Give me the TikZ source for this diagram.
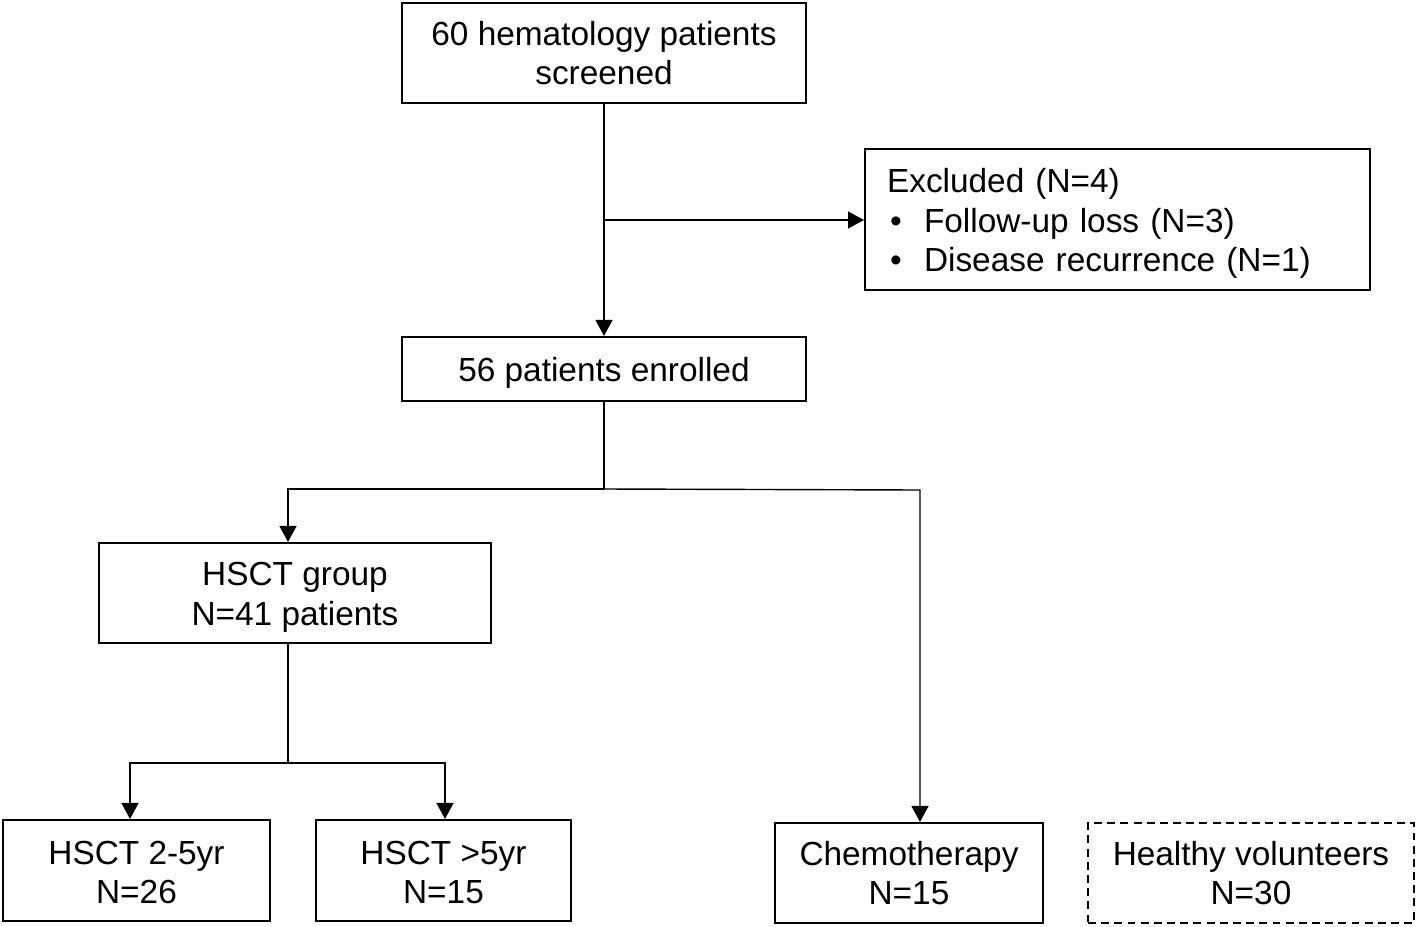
\documentclass[tikz,border=0pt]{standalone}
\usepackage{fontspec}
\setmainfont{Liberation Sans}
\usetikzlibrary{arrows.meta,calc}
\begin{document}
\begin{tikzpicture}[x=0.02cm,y=-0.02cm,
  txt/.style={inner sep=0pt,align=center,font=\fontsize{19}{22.6}\selectfont},
  box/.style={txt,draw=black,line width=1.2pt},
  dbox/.style={box,dash pattern=on 4.5pt off 3pt},
  conn/.style={draw=black,line width=0.8pt},
  arr/.style={conn,-{Triangle[length=0.32cm,width=0.34cm]}}]
\useasboundingbox (0,0) rectangle (1418,927);
\node[box,minimum width=8.08cm,minimum height=2cm] (top) at (604,53)
  {60 hematology patients\\screened};
\node[box,minimum width=10.1cm,minimum height=2.82cm] (excl) at (1117.5,219.5) {};
\node[txt,text width=9.22cm,align=left] (exclt) at (1117.5,223.5)
  {Excluded (N=4)\\
   \makebox[0.74cm][l]{\hspace{0.06cm}•}Follow-up loss (N=3)\\
   \makebox[0.74cm][l]{\hspace{0.06cm}•}Disease recurrence (N=1)};
\node[box,minimum width=8.08cm,minimum height=1.28cm] (enr) at (604,369) {};
\node[txt] (enrt) at (604,373) {56 patients enrolled};
\node[box,minimum width=7.84cm,minimum height=2cm] (grp) at (295,593) {};
\node[txt] (grpt) at (295,597.5) {HSCT group\\N=41 patients};
\node[box,minimum width=5.34cm,minimum height=2.02cm] (h25) at (136.5,870.5) {};
\node[txt] (h25t) at (136.5,872.5) {HSCT 2-5yr\\N=26};
\node[box,minimum width=5.1cm,minimum height=2.02cm] (h5) at (443.5,870.5) {};
\node[txt] (h5t) at (443.5,872.5) {HSCT >5yr\\N=15};
\node[box,minimum width=5.36cm,minimum height=2cm] (chemo) at (909,873)
  {Chemotherapy\\N=15};
\node[dbox,minimum width=6.52cm,minimum height=2cm] (hv) at (1251,873)
  {Healthy volunteers\\N=30};
% connectors
\coordinate (b1) at (604,220);
\coordinate (j1) at (604,489);
\coordinate (gl) at (288,489);
\coordinate (cr) at (920,490);
\coordinate (g2) at (288,763);
\coordinate (gL) at (130,763);
\coordinate (gR) at (445,763);
\draw[arr] (top.south) -- (enr.north);
\draw[arr] (b1) -- (b1 -| excl.west);
\draw[conn] (enr.south) -- (j1);
\draw[arr] (j1) -- (gl) -- (gl |- grp.north);
\draw[arr] (j1) -- (cr) -- (cr |- chemo.north);
\draw[conn] (gl |- grp.south) -- (g2);
\draw[arr] (g2) -- (gL) -- (gL |- h25.north);
\draw[arr] (g2) -- (gR) -- (gR |- h5.north);
\end{tikzpicture}
\end{document}
